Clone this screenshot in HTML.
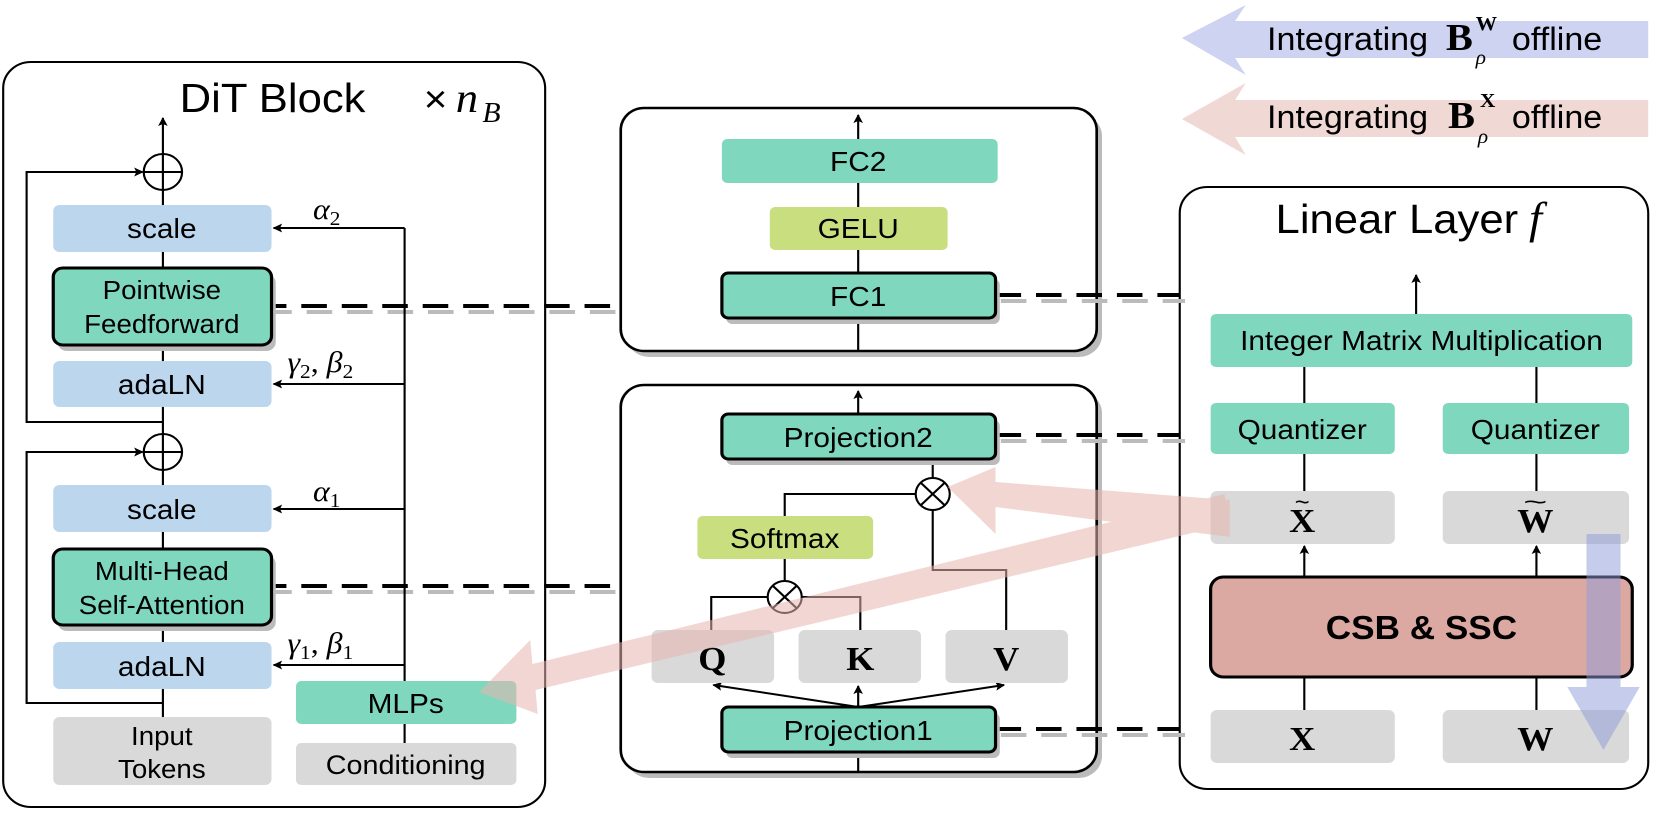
<!DOCTYPE html>
<html><head><meta charset="utf-8"><style>
html,body{margin:0;padding:0;background:#fff;overflow:hidden;}
svg{display:block;font-family:"Liberation Sans",sans-serif;}
.m{font-family:"Liberation Serif",serif;font-style:italic;}
.b{font-family:"Liberation Serif",serif;font-weight:bold;}
</style></head><body>
<svg width="1661" height="817" viewBox="0 0 1560 817" preserveAspectRatio="none" xmlns="http://www.w3.org/2000/svg">
<defs>
<marker id="ah" markerWidth="9" markerHeight="9" refX="8" refY="4.5" orient="auto" markerUnits="userSpaceOnUse"><path d="M0,0 L9,4.5 L0,9 L2,4.5 z" fill="#000"/></marker>
</defs>
<g stroke="#000" stroke-width="2.5" fill="none">
<rect x="588" y="114" width="447" height="243" rx="22" fill="#bbb" stroke="none"/>
<rect x="583" y="108" width="447" height="243" rx="22" fill="#fff"/>
<rect x="588" y="391" width="447" height="387" rx="22" fill="#bbb" stroke="none"/>
<rect x="583" y="385" width="447" height="387" rx="22" fill="#fff"/>
<rect x="3" y="62" width="509" height="745" rx="26" fill="#fff" stroke-width="2"/>
<rect x="1108" y="187" width="440" height="602" rx="26" fill="#fff" stroke-width="2"/>
</g>
<g stroke-width="4" stroke-dasharray="24,14">
<g stroke="#bbb" transform="translate(5,6)">
<line x1="245" y1="306" x2="583" y2="306"/><line x1="245" y1="586" x2="583" y2="586"/>
<line x1="935" y1="295" x2="1108" y2="295"/><line x1="935" y1="435" x2="1108" y2="435"/><line x1="935" y1="729" x2="1108" y2="729"/>
</g>
<g stroke="#000">
<line x1="245" y1="306" x2="583" y2="306"/><line x1="245" y1="586" x2="583" y2="586"/>
<line x1="935" y1="295" x2="1108" y2="295"/><line x1="935" y1="435" x2="1108" y2="435"/><line x1="935" y1="729" x2="1108" y2="729"/>
</g>
</g>
<text x="256" y="112" font-size="41" text-anchor="middle">DiT Block</text>
<text x="398" y="112" font-size="38">×</text><text x="428" y="112" font-size="42" class="m">n</text><text x="453" y="122" font-size="28" class="m">B</text>
<g stroke="#000" stroke-width="2" fill="none">
<line x1="153" y1="160" x2="153" y2="118" marker-end="url(#ah)"/>
<line x1="153" y1="190" x2="153" y2="717"/>
<circle cx="153" cy="172" r="18" fill="#fff"/><line x1="135" y1="172" x2="171" y2="172"/><line x1="153" y1="154" x2="153" y2="190"/>
<polyline points="153,422 25,422 25,172 134,172" marker-end="url(#ah)"/>
<circle cx="153" cy="452" r="18" fill="#fff"/><line x1="135" y1="452" x2="171" y2="452"/><line x1="153" y1="434" x2="153" y2="470"/>
<polyline points="153,703 25,703 25,452 134,452" marker-end="url(#ah)"/>
<line x1="380" y1="228" x2="380" y2="743"/>
<line x1="380" y1="228" x2="257" y2="228" marker-end="url(#ah)"/>
<line x1="380" y1="384" x2="257" y2="384" marker-end="url(#ah)"/>
<line x1="380" y1="509" x2="257" y2="509" marker-end="url(#ah)"/>
<line x1="380" y1="665" x2="257" y2="665" marker-end="url(#ah)"/>
</g>
<g font-size="28" text-anchor="middle">
<rect x="50" y="205" width="205" height="47" rx="6" fill="#bcd6ee"/><text x="152" y="238">scale</text>
<rect x="54" y="274" width="205" height="77" rx="9" fill="#bbb"/>
<rect x="50" y="268" width="205" height="77" rx="9" fill="#7fd8bd" stroke="#000" stroke-width="3"/><text x="152" y="299" font-size="26">Pointwise</text><text x="152" y="333" font-size="26">Feedforward</text>
<rect x="50" y="361" width="205" height="46" rx="6" fill="#bcd6ee"/><text x="152" y="394">adaLN</text>
<rect x="50" y="485" width="205" height="47" rx="6" fill="#bcd6ee"/><text x="152" y="519">scale</text>
<rect x="54" y="555" width="205" height="76" rx="9" fill="#bbb"/>
<rect x="50" y="549" width="205" height="76" rx="9" fill="#7fd8bd" stroke="#000" stroke-width="3"/><text x="152" y="580" font-size="26">Multi-Head</text><text x="152" y="614" font-size="26">Self-Attention</text>
<rect x="50" y="642" width="205" height="47" rx="6" fill="#bcd6ee"/><text x="152" y="676">adaLN</text>
<rect x="50" y="717" width="205" height="68" rx="6" fill="#d9d9d9"/><text x="152" y="745" font-size="26">Input</text><text x="152" y="778" font-size="26">Tokens</text>
<rect x="278" y="681" width="207" height="43" rx="5" fill="#7fd8bd"/><text x="381" y="713">MLPs</text>
<rect x="278" y="743" width="207" height="42" rx="5" fill="#d9d9d9"/><text x="381" y="774" font-size="27">Conditioning</text>
</g>
<g class="m" font-size="30">
<text x="294" y="219">α<tspan font-size="20" font-style="normal" dy="6">2</tspan></text>
<text x="270" y="372">γ<tspan font-size="20" font-style="normal" dy="6">2</tspan><tspan dy="-6" font-style="normal">, </tspan>β<tspan font-size="20" font-style="normal" dy="6">2</tspan></text>
<text x="294" y="501">α<tspan font-size="20" font-style="normal" dy="6">1</tspan></text>
<text x="270" y="653">γ<tspan font-size="20" font-style="normal" dy="6">1</tspan><tspan dy="-6" font-style="normal">, </tspan>β<tspan font-size="20" font-style="normal" dy="6">1</tspan></text>
</g>
<g stroke="#000" stroke-width="2" fill="none">
<line x1="806" y1="351" x2="806" y2="115" marker-end="url(#ah)"/>
</g>
<g font-size="28" text-anchor="middle">
<rect x="678" y="139" width="259" height="44" rx="5" fill="#7fd8bd"/><text x="806" y="171">FC2</text>
<rect x="723" y="207" width="167" height="43" rx="5" fill="#c9df7f"/><text x="806" y="238">GELU</text>
<rect x="682" y="279" width="257" height="45" rx="6" fill="#bbb"/>
<rect x="678" y="273" width="257" height="45" rx="6" fill="#7fd8bd" stroke="#000" stroke-width="3"/><text x="806" y="306">FC1</text>
</g>
<g stroke="#000" stroke-width="2" fill="none">
<line x1="806" y1="414" x2="806" y2="391" marker-end="url(#ah)"/>
<line x1="876" y1="459" x2="876" y2="478"/>
<polyline points="737,516 737,494 860,494"/>
<polyline points="876,510 876,570 945,570 945,630"/>
<line x1="737" y1="559" x2="737" y2="581"/>
<polyline points="668,630 668,597 721,597"/>
<polyline points="808,630 808,597 753,597"/>
<line x1="806" y1="707" x2="670" y2="685" marker-end="url(#ah)"/>
<line x1="806" y1="707" x2="806" y2="686" marker-end="url(#ah)"/>
<line x1="806" y1="707" x2="943" y2="685" marker-end="url(#ah)"/>
<line x1="806" y1="752" x2="806" y2="772"/>
</g>
<g font-size="28" text-anchor="middle">
<rect x="682" y="420" width="257" height="45" rx="6" fill="#bbb"/>
<rect x="678" y="414" width="257" height="45" rx="6" fill="#7fd8bd" stroke="#000" stroke-width="3"/><text x="806" y="447">Projection2</text>
<rect x="655" y="516" width="165" height="43" rx="5" fill="#c9df7f"/><text x="737" y="548">Softmax</text>
<rect x="612" y="630" width="115" height="53" rx="6" fill="#d9d9d9"/><text x="669" y="670" class="b" font-size="34">Q</text>
<rect x="750" y="630" width="115" height="53" rx="6" fill="#d9d9d9"/><text x="808" y="670" class="b" font-size="34">K</text>
<rect x="888" y="630" width="115" height="53" rx="6" fill="#d9d9d9"/><text x="945" y="670" class="b" font-size="34">V</text>
<rect x="682" y="713" width="257" height="45" rx="6" fill="#bbb"/>
<rect x="678" y="707" width="257" height="45" rx="6" fill="#7fd8bd" stroke="#000" stroke-width="3"/><text x="806" y="740">Projection1</text>
</g>
<g stroke="#000" stroke-width="2" fill="#fff">
<circle cx="876" cy="494" r="16"/><line x1="865" y1="483" x2="887" y2="505"/><line x1="887" y1="483" x2="865" y2="505"/>
<circle cx="737" cy="597" r="16"/><line x1="726" y1="586" x2="748" y2="608"/><line x1="748" y1="586" x2="726" y2="608"/>
</g>
<text x="1198" y="233" font-size="41">Linear Layer</text><text x="1436" y="233" font-size="44" class="m">f</text>
<g stroke="#000" stroke-width="2" fill="none">
<line x1="1330" y1="314" x2="1330" y2="275" marker-end="url(#ah)"/>
<line x1="1225" y1="367" x2="1225" y2="491"/><line x1="1443" y1="367" x2="1443" y2="491"/>
<line x1="1225" y1="577" x2="1225" y2="546" marker-end="url(#ah)"/><line x1="1443" y1="577" x2="1443" y2="546" marker-end="url(#ah)"/>
<line x1="1225" y1="710" x2="1225" y2="677"/><line x1="1443" y1="710" x2="1443" y2="677"/>
</g>
<g font-size="28" text-anchor="middle">
<rect x="1137" y="314" width="396" height="53" rx="5" fill="#7fd8bd"/><text x="1335" y="350">Integer Matrix Multiplication</text>
<rect x="1137" y="403" width="173" height="51" rx="5" fill="#7fd8bd"/><text x="1223" y="439">Quantizer</text>
<rect x="1355" y="403" width="175" height="51" rx="5" fill="#7fd8bd"/><text x="1442" y="439">Quantizer</text>
<rect x="1137" y="491" width="173" height="53" rx="6" fill="#d9d9d9"/><text x="1223" y="532" class="b" font-size="34">X</text><text x="1223" y="510" font-size="24">~</text>
<rect x="1355" y="491" width="175" height="53" rx="6" fill="#d9d9d9"/><text x="1442" y="532" class="b" font-size="34">W</text><text x="1442" y="510" font-size="24" transform="translate(1442,0) scale(1.6,1) translate(-1442,0)">~</text>
<rect x="1137" y="577" width="396" height="100" rx="12" fill="#dba8a2" stroke="#000" stroke-width="3"/><text x="1335" y="639" font-weight="bold" font-size="33">CSB &amp; SSC</text>
<rect x="1137" y="710" width="173" height="53" rx="6" fill="#d9d9d9"/><text x="1223" y="750" class="b" font-size="34">X</text>
<rect x="1355" y="710" width="175" height="53" rx="6" fill="#d9d9d9"/><text x="1442" y="750" class="b" font-size="34">W</text>
</g>
<g fill="#e8b5af" opacity="0.55">
<polygon points="1150,494 500,664 498,640 450,692 505,714 503,690 1155,524"/>
<polygon points="1155,500 935,482 935,467 890,487 935,534 935,507 1155,537"/>
</g>
<polygon points="1490,534 1522,534 1522,687 1540,687 1506,750 1472,687 1490,687" fill="#8e9bd9" opacity="0.5"/>
<polygon points="1548,21 1160,21 1170,5 1110,38 1170,75 1160,58 1548,58" fill="#cdd3f0"/>
<polygon points="1548,100 1160,100 1170,83 1110,119 1170,155 1160,137 1548,137" fill="#f0d8d5"/>
<g font-size="32">
<text x="1190" y="50">Integrating</text><text x="1358" y="50" class="b" font-size="38">B</text><text x="1386" y="30" class="b" font-size="20">W</text><text x="1386" y="64" class="m" font-size="20">ρ</text><text x="1420" y="50">offline</text>
<text x="1190" y="128">Integrating</text><text x="1360" y="128" class="b" font-size="38">B</text><text x="1390" y="107" class="b" font-size="20">X</text><text x="1388" y="143" class="m" font-size="20">ρ</text><text x="1420" y="128">offline</text>
</g>
</svg>
</body></html>
